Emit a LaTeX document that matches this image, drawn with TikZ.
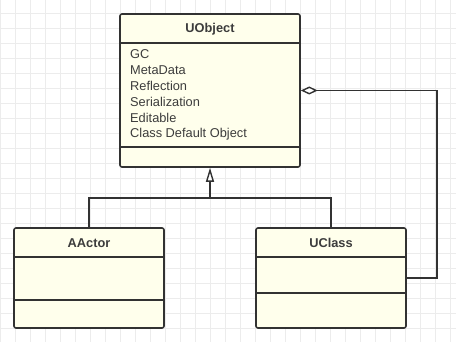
\documentclass[tikz,border=0pt]{standalone}
\usepackage{fontspec}
\setmainfont{Liberation Sans}
\usepackage{tikz}
\usetikzlibrary{arrows.meta, positioning}
\definecolor{BoxFill}{RGB}{255,255,236}
\definecolor{LineGrey}{RGB}{50,50,50}
\definecolor{TextGrey}{RGB}{60,60,60}
\definecolor{GridGrey}{RGB}{236,236,236}

\tikzset{
  classbox/.style={draw=LineGrey, fill=BoxFill, line width=1.6pt, rounded corners=2pt, inner sep=0pt},
  divider/.style={draw=LineGrey, line width=1.6pt},
  title/.style={text=TextGrey, font=\fontsize{12.8}{15}\selectfont\bfseries},
  attr/.style={text=TextGrey, font=\fontsize{12.8}{15}\selectfont, inner sep=0pt},
  link/.style={draw=LineGrey, line width=1.6pt},
}

\begin{document}
\begin{tikzpicture}[x=1pt, y=-1pt]
        \useasboundingbox (0,0) rectangle (456,342);
        \fill[white] (0,0) rectangle (456,342);
        % background grid
        \foreach \gx in {0,15,...,450} {
          \draw[GridGrey, line width=0.6pt] (\gx,0) -- (\gx,342);
        }
        \foreach \gy in {13,28,...,342} {
          \draw[GridGrey, line width=0.6pt] (0,\gy) -- (456,\gy);
        }

        % classes
        \node[classbox, minimum width=180pt, minimum height=153pt] (uobject) at (210,90.5) {};
        \node[classbox, minimum width=150pt, minimum height=100pt] (aactor) at (89,278) {};
        \node[classbox, minimum width=150pt, minimum height=100pt] (uclass) at (331,278) {};

        \draw[divider] ([yshift=-30pt]uobject.north west) -- ([yshift=-30pt]uobject.north east);
        \draw[divider] ([yshift=21pt]uobject.south west) -- ([yshift=21pt]uobject.south east);
        \draw[divider] ([yshift=-30pt]aactor.north west) -- ([yshift=-30pt]aactor.north east);
        \draw[divider] ([yshift=-73pt]aactor.north west) -- ([yshift=-73pt]aactor.north east);
        \draw[divider] ([yshift=-30pt]uclass.north west) -- ([yshift=-30pt]uclass.north east);
        \draw[divider] ([yshift=-66pt]uclass.north west) -- ([yshift=-66pt]uclass.north east);

        \node[title] (uobjectname) at (210,29) {UObject};
        \node[title] (aactorname) at (89,243) {AActor};
        \node[title] (uclassname) at (331,243) {UClass};

        \foreach \a [count=\i] in {GC, MetaData, Reflection, Serialization, Editable, Class Default Object} {
          \node[attr, anchor=west] (attr\i) at (130,{38+16*\i}) {\a};
        }

        % inheritance
        \coordinate (split) at (210,198);
        \draw[link] (aactor.north) |- (split) -| (uclass.north);
        \draw[link, -{Triangle[open, length=14pt, width=8pt, line width=1.4pt, fill=white]}] (split) -- (uobject.south);

        % aggregation
        \coordinate (bend) at (437,90.5);
        \draw[link, -{Diamond[open, length=17pt, width=8pt, line width=1.4pt, fill=white]}] (uclass.east) -| (bend) -- (uobject.east);
\end{tikzpicture}
\end{document}
